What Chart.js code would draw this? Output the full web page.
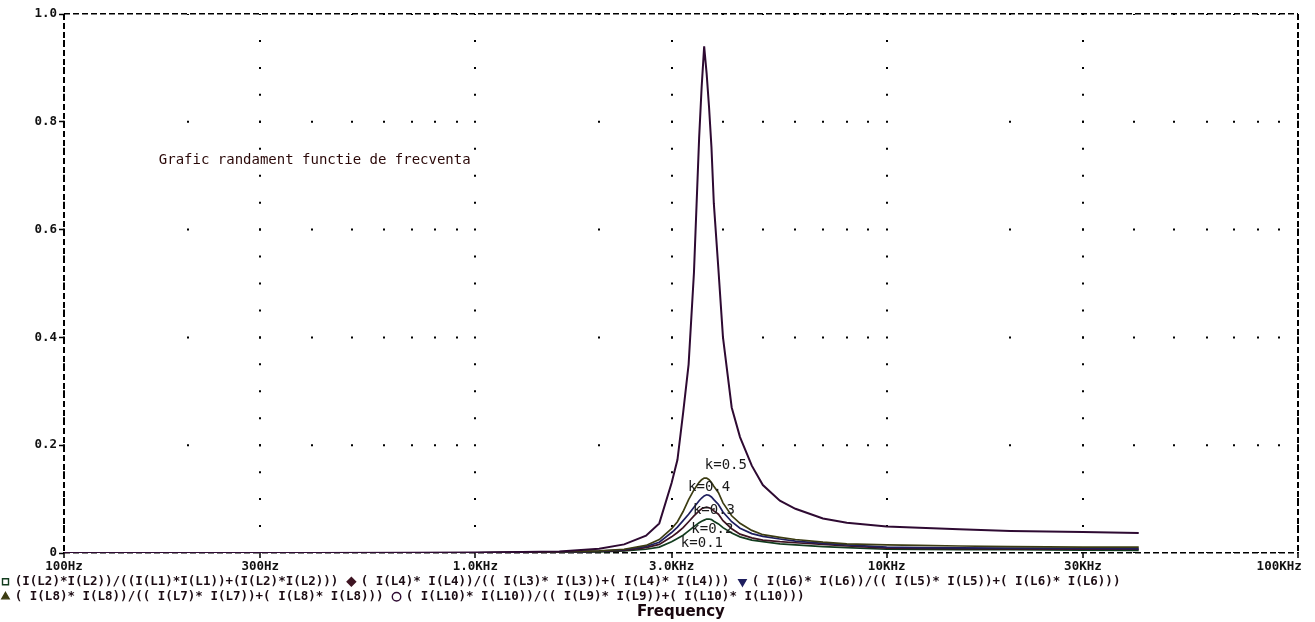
<!DOCTYPE html>
<html><head><meta charset="utf-8">
<script src="https://cdn.jsdelivr.net/npm/chart.js@4/dist/chart.umd.min.js"></script>
<style>html,body{margin:0;padding:0;background:#fff;}canvas{display:block;}</style>
</head><body>
<canvas id="c" width="1315" height="622" style="width:1315px;height:622px"></canvas>
<script>
// ---- data ----
const frequencies = [100, 200, 400, 700, 1000, 1300, 1600, 2000, 2300, 2600, 2800, 3000, 3100, 3200, 3300, 3400, 3500, 3550, 3600, 3650, 3700, 3750, 3800, 3900, 4000, 4200, 4400, 4700, 5000, 5500, 6000, 7000, 8000, 10000, 12000, 15000, 20000, 30000, 41000];
const effK01 = [0, 0, 0, 0, 0.0002, 0.0006, 0.001, 0.002, 0.004, 0.007, 0.011, 0.021, 0.027, 0.033, 0.041, 0.049, 0.056, 0.059, 0.061, 0.063, 0.063, 0.062, 0.059, 0.054, 0.047, 0.037, 0.030, 0.024, 0.021, 0.017, 0.015, 0.012, 0.010, 0.007, 0.0065, 0.006, 0.006, 0.0055, 0.005];
const effK02 = [0, 0, 0, 0, 0.0003, 0.0008, 0.0015, 0.003, 0.005, 0.010, 0.016, 0.030, 0.038, 0.047, 0.058, 0.069, 0.078, 0.082, 0.084, 0.085, 0.084, 0.082, 0.078, 0.072, 0.060, 0.045, 0.035, 0.028, 0.024, 0.021, 0.019, 0.016, 0.013, 0.009, 0.0085, 0.008, 0.0075, 0.007, 0.007];
const effK03 = [0, 0, 0, 0, 0.0004, 0.001, 0.0018, 0.0035, 0.006, 0.012, 0.020, 0.038, 0.048, 0.060, 0.072, 0.085, 0.097, 0.102, 0.106, 0.108, 0.107, 0.104, 0.099, 0.090, 0.076, 0.058, 0.046, 0.036, 0.031, 0.026, 0.022, 0.018, 0.015, 0.011, 0.010, 0.0095, 0.009, 0.0085, 0.008];
const effK04 = [0, 0, 0, 0, 0.0005, 0.001, 0.002, 0.004, 0.007, 0.014, 0.025, 0.045, 0.058, 0.077, 0.099, 0.117, 0.131, 0.136, 0.139, 0.139, 0.136, 0.131, 0.124, 0.112, 0.093, 0.069, 0.055, 0.042, 0.034, 0.029, 0.025, 0.020, 0.017, 0.015, 0.014, 0.013, 0.012, 0.011, 0.011];
const effK05 = [0, 0, 0, 0.0005, 0.001, 0.002, 0.003, 0.008, 0.016, 0.032, 0.055, 0.13, 0.173, 0.26, 0.35, 0.52, 0.77, 0.865, 0.94, 0.89, 0.827, 0.753, 0.649, 0.525, 0.40, 0.27, 0.215, 0.162, 0.126, 0.097, 0.082, 0.064, 0.056, 0.049, 0.047, 0.044, 0.041, 0.039, 0.037];
const seriesLabels = [
  '(I(L2)*I(L2))/((I(L1)*I(L1))+(I(L2)*I(L2)))',
  '( I(L4)* I(L4))/(( I(L3)* I(L3))+( I(L4)* I(L4)))',
  '( I(L6)* I(L6))/(( I(L5)* I(L5))+( I(L6)* I(L6)))',
  '( I(L8)* I(L8))/(( I(L7)* I(L7))+( I(L8)* I(L8)))',
  '( I(L10)* I(L10))/(( I(L9)* I(L9))+( I(L10)* I(L10)))'
];
const xTickValues = [100, 300, 1000, 3000, 10000, 30000, 100000];
const xTickLabels = ['100Hz', '300Hz', '1.0KHz', '3.0KHz', '10KHz', '30KHz', '100KHz'];
const xMinorValues = [200, 300, 400, 500, 600, 700, 800, 900, 2000, 3000, 4000, 5000, 6000, 7000, 8000, 9000, 20000, 30000, 40000, 50000, 60000, 70000, 80000, 90000];
const yTickValues = [0, 0.2, 0.4, 0.6, 0.8, 1.0];
const yTickLabels = ['0', '0.2', '0.4', '0.6', '0.8', '1.0'];
const xAxisTitle = 'Frequency';
const noteTexts = ['Grafic randament functie de frecventa', 'k=0.5', 'k=0.4', 'k=0.3', 'k=0.2', 'k=0.1'];
const noteFreq = [170, 3613, 3290, 3380, 3350, 3160];
const noteValue = [0.729, 0.163, 0.121, 0.080, 0.0445, 0.0186];

// ---- styles ----
const MONO = "'DejaVu Sans Mono', 'Liberation Mono', monospace";
const lineColors = ['#123c1e', '#3e1422', '#1e1e5e', '#3c3c12', '#2e0a32'];
const markerStyles = [
  {style: 'rect', rot: 0, fill: false},
  {style: 'rectRot', rot: 0, fill: true},
  {style: 'triangle', rot: 180, fill: true},
  {style: 'triangle', rot: 0, fill: true},
  {style: 'circle', rot: 0, fill: false}
];
const seriesValues = [effK01, effK02, effK03, effK04, effK05];

const datasets = seriesValues.map((vals, i) => ({
  label: seriesLabels[i],
  data: frequencies.map((f, j) => ({x: f, y: vals[j]})),
  borderColor: lineColors[i],
  backgroundColor: lineColors[i],
  borderWidth: i === 4 ? 2 : 1.7,
  pointRadius: 0,
  tension: 0,
  fill: false,
  order: 5 - i
}));

const notePlugin = {
  id: 'notes',
  afterDatasetsDraw(chart) {
    const {ctx, scales: {x, y}} = chart;
    ctx.save();
    ctx.font = "14px " + MONO;
    ctx.textBaseline = 'middle';
    ctx.textAlign = 'left';
    noteTexts.forEach((t, i) => {
      ctx.fillStyle = i === 0 ? '#2a0808' : '#1a1a1a';
      ctx.fillText(t, x.getPixelForValue(noteFreq[i]), y.getPixelForValue(noteValue[i]));
    });
    ctx.restore();
  }
};

new Chart(document.getElementById('c'), {
  type: 'line',
  data: {datasets},
  plugins: [notePlugin],
  options: {
    responsive: false,
    animation: false,
    devicePixelRatio: 1,
    layout: {padding: {top: 14, right: 17, left: 0, bottom: 0}},
    plugins: {
      tooltip: {enabled: false},
      legend: {
        display: true,
        position: 'bottom',
        align: 'start',
        maxHeight: 32,
        labels: {
          usePointStyle: true,
          boxWidth: 6,
          boxHeight: 6,
          padding: 2.5,
          color: '#1c0c14',
          font: {family: MONO, size: 12.5, weight: 'bold'},
          generateLabels: (chart) => chart.data.datasets.map((ds, i) => ({
            text: ds.label + ' ',
            datasetIndex: i,
            fillStyle: markerStyles[i].fill ? lineColors[i] : 'rgba(0,0,0,0)',
            strokeStyle: lineColors[i],
            lineWidth: 1.4,
            pointStyle: markerStyles[i].style,
            rotation: markerStyles[i].rot,
            fontColor: '#1c0c14',
            hidden: false
          }))
        }
      },
      title: {
        display: true,
        position: 'bottom',
        fullSize: false,
        text: xAxisTitle,
        color: '#1a0810',
        font: {family: "'DejaVu Sans', sans-serif", size: 15, weight: 'bold', lineHeight: 1},
        padding: {top: 0, bottom: 2}
      }
    },
    scales: {
      x: {
        type: 'logarithmic', min: 100, max: 100000, position: 'bottom',
        afterBuildTicks: (s) => { s.ticks = xTickValues.map(v => ({value: v})); },
        afterFit: (s) => { s.height = 20; s.paddingLeft = 0; s.paddingRight = 0; },
        ticks: {
          autoSkip: false, maxRotation: 0, minRotation: 0, padding: 1,
          color: '#111', font: {family: MONO, size: 12.5, weight: 'bold'},
          callback: (v, i) => (i === xTickLabels.length - 1 ? xTickLabels[i] + '     ' : xTickLabels[i])
        },
        grid: {color: '#000', lineWidth: 2, drawTicks: true, tickLength: 5, tickColor: '#000', tickWidth: 1.5},
        border: {display: false, dash: [2, 24.95], dashOffset: 1}
      },
      xMinor: {
        type: 'logarithmic', min: 100, max: 100000, position: 'bottom',
        afterBuildTicks: (s) => { s.ticks = xMinorValues.map(v => ({value: v})); },
        afterFit: (s) => { s.height = 0; s.paddingLeft = 0; s.paddingRight = 0; },
        ticks: {display: false},
        grid: {color: '#000', lineWidth: 2, drawTicks: false},
        border: {display: false, dash: [2, 105.8], dashOffset: 1}
      },
      xFrame: {
        type: 'logarithmic', min: 100, max: 100000, position: 'top',
        afterBuildTicks: (s) => { s.ticks = [{value: 100}, {value: 100000}]; },
        afterFit: (s) => { s.height = 0; s.paddingLeft = 0; s.paddingRight = 0; },
        ticks: {display: false},
        grid: {color: '#000', lineWidth: 2, drawTicks: false},
        border: {display: false, dash: [6, 3]}
      },
      y: {
        type: 'linear', min: 0, max: 1, position: 'left',
        afterBuildTicks: (s) => { s.ticks = yTickValues.map(v => ({value: v})); },
        afterFit: (s) => { s.width = 64; s.paddingTop = 0; s.paddingBottom = 0; },
        ticks: {
          padding: 2, color: '#111', font: {family: MONO, size: 12.5, weight: 'bold'},
          callback: (v, i) => yTickLabels[i]
        },
        grid: {drawOnChartArea: false, drawTicks: true, tickLength: 5, tickColor: '#000', tickWidth: 1.5},
        border: {display: false}
      },
      yFrame: {
        type: 'linear', min: 0, max: 1, position: 'right',
        afterBuildTicks: (s) => { s.ticks = [{value: 0}, {value: 1}]; },
        afterFit: (s) => { s.width = 0; s.paddingTop = 0; s.paddingBottom = 0; },
        ticks: {display: false},
        grid: {color: '#000', lineWidth: 1.6, drawTicks: false},
        border: {display: false, dash: [6, 3]}
      }
    }
  }
});
</script>
</body></html>
